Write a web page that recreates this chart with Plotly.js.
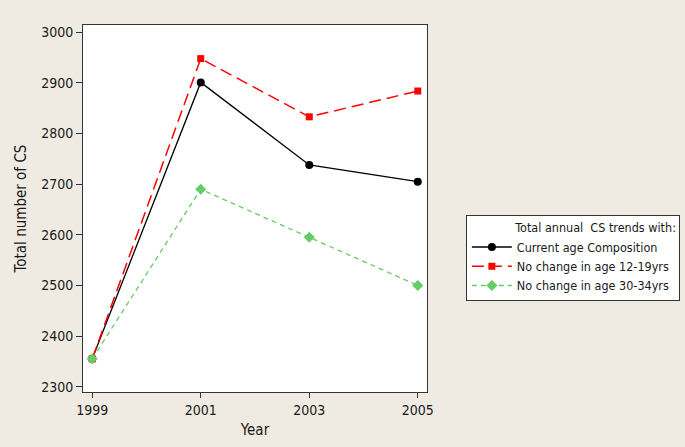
<!DOCTYPE html>
<html>
<head>
<meta charset="utf-8">
<script src="https://cdn.plot.ly/plotly-3.0.1.min.js"></script>
<style>html,body{margin:0;padding:0;background:#efebe2;}#chart{width:685px;height:447px;}</style>
</head>
<body>
<div id="chart"></div>
<script>
const years = [1999, 2001, 2003, 2005];
const currentAge = [2355, 2901, 2738, 2705];
const noChange12to19 = [2355, 2948, 2833, 2884];
const noChange30to34 = [2355, 2690, 2595, 2500];
const seriesNames = ["Current age Composition", "No change in age 12-19yrs", "No change in age 30-34yrs"];
const legendTitle = "Total annual  CS trends with:";
const yTicks = [2300, 2400, 2500, 2600, 2700, 2800, 2900, 3000];

const FONT = "DejaVu Sans Condensed, DejaVu Sans, sans-serif";

const traces = [
  {x: years, y: currentAge, name: seriesNames[0], mode: "lines+markers",
   line: {color: "#000000", width: 1.3}, marker: {symbol: "circle", size: 8, color: "#000000"}},
  {x: years, y: noChange12to19, name: seriesNames[1], mode: "lines+markers",
   line: {color: "#ff0000", width: 1.5, dash: "12px,6px"}, marker: {symbol: "square", size: 7, color: "#ff0000"}},
  {x: years, y: noChange30to34, name: seriesNames[2], mode: "lines+markers",
   line: {color: "#66cc66", width: 1.3, dash: "5px,4px"}, marker: {symbol: "diamond", size: 8.5, color: "#66cc66"}}
];

const layout = {
  width: 685, height: 447,
  paper_bgcolor: "#efebe2", plot_bgcolor: "#ffffff",
  margin: {l: 83, r: 258, t: 25, b: 55, autoexpand: false},
  font: {family: FONT, size: 13, color: "#1a1a1a"},
  showlegend: true,
  xaxis: {
    range: [1998.83, 2005.17], tickvals: years, ticktext: years.map(String),
    showgrid: false, zeroline: false, showline: true, mirror: true,
    linecolor: "#333333", linewidth: 1, ticks: "outside", ticklen: 5, tickcolor: "#333333",
    tickfont: {family: FONT, size: 14},
    title: {text: "Year", font: {family: FONT, size: 15}, standoff: 7}
  },
  yaxis: {
    range: [2289.5, 3014.4], tickvals: yTicks,
    showgrid: false, zeroline: false, showline: true, mirror: true,
    linecolor: "#333333", linewidth: 1, ticks: "outside", ticklen: 6, tickcolor: "#333333",
    tickfont: {family: FONT, size: 14},
    title: {text: "Total number of CS", font: {family: FONT, size: 15}, standoff: 10}
  },
  legend: {
    x: 1.113, y: 0.482, xanchor: "left", yanchor: "top",
    bgcolor: "#ffffff", bordercolor: "#333333", borderwidth: 1,
    font: {family: FONT, size: 12.5, color: "#1a1a1a"},
    title: {text: "\u00a0\u00a0\u00a0\u00a0\u00a0\u00a0\u00a0\u00a0\u00a0\u00a0\u00a0\u00a0\u00a0" + legendTitle, font: {family: FONT, size: 12.5}},
    tracegroupgap: 0, itemwidth: 40
  }
};

Plotly.newPlot("chart", traces, layout, {staticPlot: true});
</script>
</body>
</html>
